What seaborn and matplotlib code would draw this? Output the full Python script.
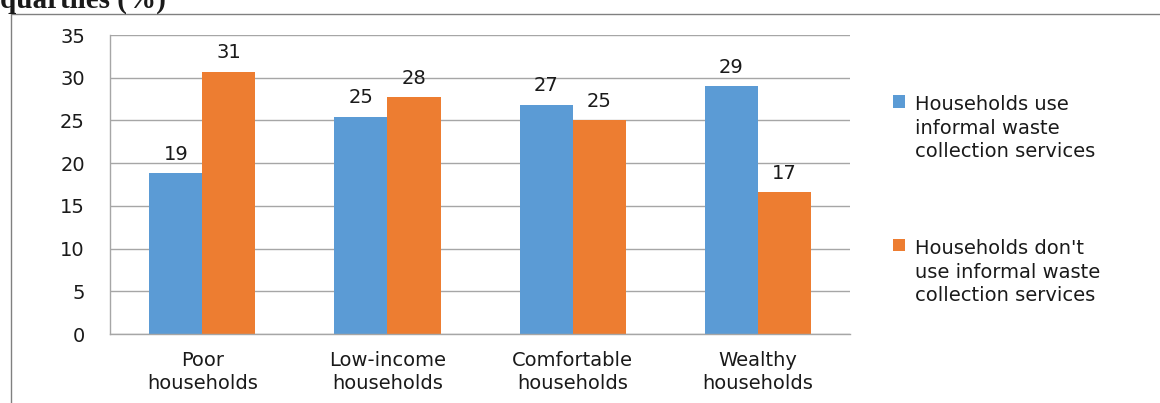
import pandas as pd
import matplotlib.pyplot as plt
import seaborn as sns
from matplotlib.lines import Line2D

# Data
groups = ["Poor\nhouseholds", "Low-income\nhouseholds", "Comfortable\nhouseholds", "Wealthy\nhouseholds"]
use_informal = [18.8, 25.4, 26.8, 29.0]
not_use_informal = [30.7, 27.7, 25.0, 16.6]
series_names = ["Households use\ninformal waste\ncollection services",
                "Households don't\nuse informal waste\ncollection services"]
y_ticks = [0, 5, 10, 15, 20, 25, 30, 35]

df = pd.DataFrame({
    "Group": groups * 2,
    "Value": use_informal + not_use_informal,
    "Series": [series_names[0]] * 4 + [series_names[1]] * 4,
})

sns.set_style("white")
plt.rcParams['font.family'] = ['DejaVu Sans']
plt.rcParams['text.color'] = '#1a1a1a'
plt.rcParams['xtick.labelcolor'] = '#1a1a1a'
plt.rcParams['ytick.labelcolor'] = '#1a1a1a'
fs = 14

fig = plt.figure(figsize=(11.6, 4.03), dpi=100)
ax = fig.add_axes([0.0948, 0.171, 0.638, 0.742])

sns.barplot(data=df, x="Group", y="Value", hue="Series",
            palette=["#5B9BD5", "#ED7D31"], width=0.573, saturation=1,
            linewidth=0, ax=ax, legend=True)

ax.set_ylim(0, 35)
ax.set_yticks(y_ticks)
ax.set_xlim(-0.5, 3.5)
ax.yaxis.grid(True, color="#A6A6A6", linewidth=1)
ax.set_axisbelow(True)
ax.set_xlabel("")
ax.set_ylabel("")
ax.tick_params(axis="both", labelsize=fs, length=0)
ax.tick_params(axis="x", pad=12)
ax.tick_params(axis="y", pad=18)
for lbl in ax.get_xticklabels():
    lbl.set_linespacing(1.25)

for s in ["top", "right"]:
    ax.spines[s].set_visible(False)
for s in ["left", "bottom"]:
    ax.spines[s].set_color("#A6A6A6")
    ax.spines[s].set_linewidth(1)

for cont in ax.containers:
    ax.bar_label(cont, labels=[f"{round(b.get_height()):d}" for b in cont],
                 padding=7, fontsize=fs)

handles, labels = ax.get_legend_handles_labels()
leg = ax.legend(handles, labels, loc="upper left", bbox_to_anchor=(1.035, 0.857),
                frameon=False, fontsize=fs, handlelength=0.6, handleheight=0.6,
                handletextpad=0.5, labelspacing=4.0)
for t in leg.get_texts():
    t.set_linespacing(1.3)
# put the legend squares beside the first line of each label
for col in leg._legend_handle_box.get_children():
    for item in col.get_children():
        item.align = "top"

# outer frame and cut-off title
fig.add_artist(Line2D([0.0095, 0.0095], [0, 0.965], color="#808080", linewidth=1))
fig.add_artist(Line2D([0.0095, 1], [0.965, 0.965], color="#808080", linewidth=1))
fig.text(0.0, 0.982, "quartiles (%)", fontsize=21, fontweight="bold",
         family="Liberation Serif", va="baseline", ha="left")

fig.savefig("out.png", dpi=100)
